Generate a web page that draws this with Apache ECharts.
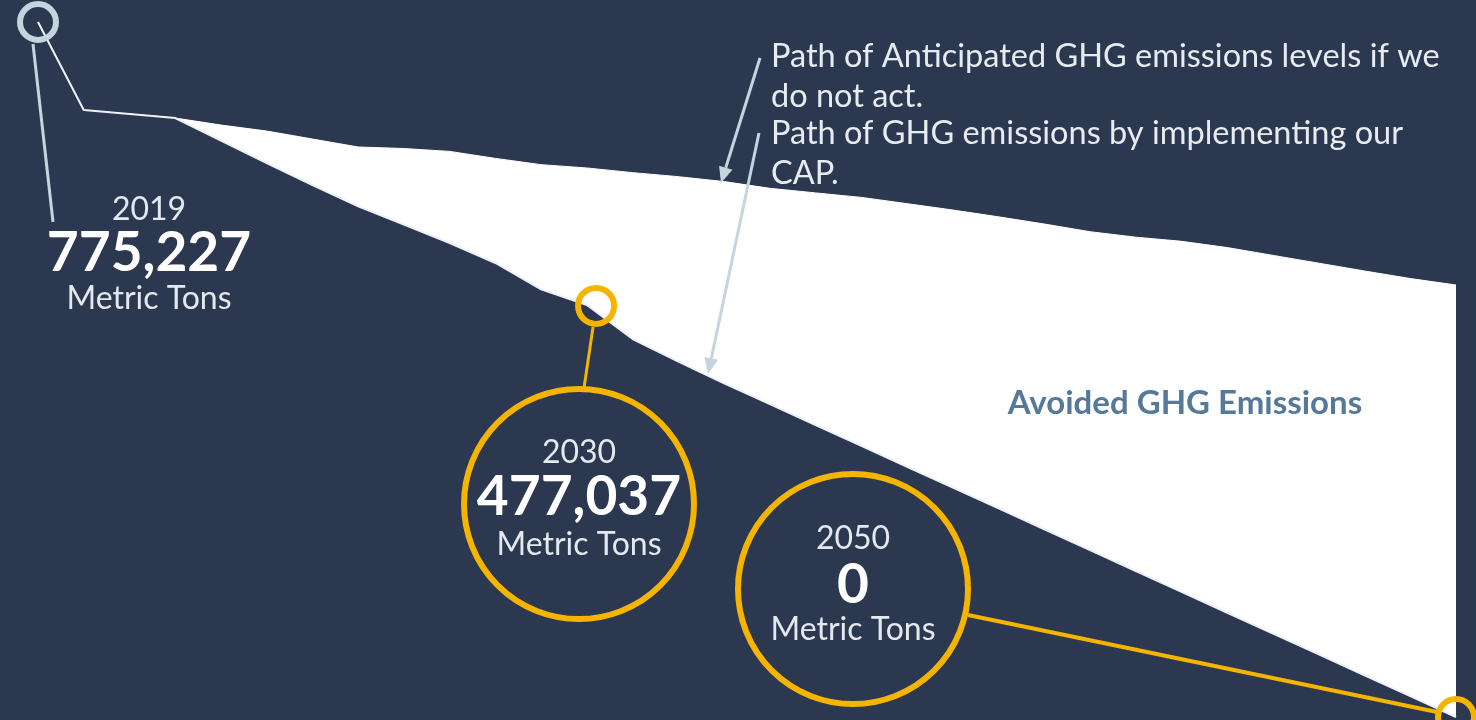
<!DOCTYPE html>
<html>
<head>
<meta charset="utf-8">
<script src="https://cdn.jsdelivr.net/npm/echarts@6.0.0/dist/echarts.min.js"></script>
<style>
html,body{margin:0;padding:0;background:#2c3850;}
#chart{width:1476px;height:720px;}
</style>
</head>
<body>
<div id="chart"></div>
<script>
// ---- data ----
const years = [2019,2020,2021,2022,2023,2024,2025,2026,2027,2028,2029,2030,2031,2032,2033,2034,2035,2036,2037,2038,2039,2040,2041,2042,2043,2044,2045,2046,2047,2048,2049,2050];
const anticipated = [775227,677000,672600,668100,660300,653600,644700,635800,634100,630900,623100,616100,612400,607200,602700,597200,589700,584600,579600,572600,565500,557900,549900,541300,535200,530600,523600,514900,506200,497500,489100,481900];
const capPath = [775227,677000,672600,668100,642800,617900,593400,569600,549200,528700,506400,477037,459500,421600,396500,372200,348900,325600,302400,279100,255900,232700,209400,186200,162800,139600,116300,93000,69800,46500,23300,0];
const calloutYears = ['2019','2030','2050'];
const calloutValues = ['775,227','477,037','0'];
const calloutUnit = 'Metric Tons';
const anchorYears = [2019, 2031.2, 2050];
const anchorValues = [775227, 458500, 0];
const noteTexts = ['Path of Anticipated GHG emissions levels if we','do not act.','Path of GHG emissions by implementing our','CAP.'];
const bandLabel = 'Avoided GHG Emissions';

const BG = '#2c3850';
const GREY = '#c6d4dd';
const YELLOW = '#f4b400';
const FONT = 'Lato, "Noto Sans", sans-serif';

const chart = echarts.init(document.getElementById('chart'), null, {renderer:'canvas'});

const anchorColors = [GREY, YELLOW, YELLOW];

chart.setOption({
  backgroundColor: BG,
  animation: false,
  grid: {left: 38, right: 20, top: 22, bottom: 3},
  xAxis: {type: 'value', min: 2019, max: 2050, show: false},
  yAxis: {type: 'value', min: 0, max: 775227, show: false},
  series: [
    {
      type: 'line', name: 'Anticipated', silent: true, z: 2,
      data: years.map((y, i) => [y, anticipated[i]]),
      symbol: 'none',
      lineStyle: {width: 1, color: '#ffffff'},
      areaStyle: {color: '#ffffff', opacity: 1}
    },
    {
      type: 'line', name: 'CAP', silent: true, z: 3,
      data: years.map((y, i) => [y, capPath[i]]),
      symbol: 'none',
      lineStyle: {width: 2, color: '#eef2f5'},
      areaStyle: {color: BG, opacity: 1},
      markPoint: {
        silent: true,
        label: {show: false},
        data: anchorYears.map((y, i) => ({
          coord: [y, anchorValues[i]],
          symbol: 'circle',
          symbolSize: 36,
          itemStyle: {color: 'rgba(0,0,0,0)', borderColor: anchorColors[i], borderWidth: 6}
        }))
      }
    }
  ]
});

// ---- annotations ----
const p = anchorYears.map((y, i) => chart.convertToPixel({gridIndex: 0}, [y, anchorValues[i]]));
const g = [];

function txt(text, x, y, size, weight, color, align) {
  g.push({type: 'text', z: 100, style: {
    text: text, x: x, y: y, fill: color,
    font: (weight || 'normal') + ' ' + size + 'px ' + FONT,
    textAlign: align || 'center', textVerticalAlign: 'middle',
    align: align || 'center', verticalAlign: 'middle'
  }});
}
function line(x1, y1, x2, y2, color, w) {
  g.push({type: 'line', z: 90, shape: {x1, y1, x2, y2}, style: {stroke: color, lineWidth: w}});
}
function ring(cx, cy, r, color, w) {
  g.push({type: 'circle', z: 90, shape: {cx, cy, r}, style: {fill: 'none', stroke: color, lineWidth: w}});
}
function arrow(x1, y1, x2, y2, color) {
  const a = Math.atan2(y2 - y1, x2 - x1);
  const L = 16, W = 7;
  const bx = x2 - L * Math.cos(a), by = y2 - L * Math.sin(a);
  line(x1, y1, bx, by, color, 3);
  g.push({type: 'polygon', z: 91, shape: {points: [[x2, y2], [bx - W * Math.sin(a), by + W * Math.cos(a)], [bx + W * Math.sin(a), by - W * Math.cos(a)]]}, style: {fill: color}});
}

// 2019 callout
line(p[0][0] - 5, p[0][1] + 22, 53, 222, GREY, 3);
txt(calloutYears[0], 149, 210, 32, 'normal', '#e3e9ee');
txt(calloutValues[0], 149, 253, 55, 'bold', '#ffffff');
txt(calloutUnit, 149, 299, 32, 'normal', '#e3e9ee');

// 2030 callout
line(p[1][0] - 3, p[1][1] + 21, 584, 388, YELLOW, 3);
ring(579, 504, 115, YELLOW, 6);
txt(calloutYears[1], 579, 453, 32, 'normal', '#e3e9ee');
txt(calloutValues[1], 579, 497, 55, 'bold', '#ffffff');
txt(calloutUnit, 579, 545, 32, 'normal', '#e3e9ee');

// 2050 callout
ring(853, 589, 115, YELLOW, 6);
line(968, 615, p[2][0] - 19, p[2][1] - 5, YELLOW, 4);
txt(calloutYears[2], 853, 539, 32, 'normal', '#e3e9ee');
txt(calloutValues[2], 853, 585, 55, 'bold', '#ffffff');
txt(calloutUnit, 853, 630, 32, 'normal', '#e3e9ee');

// path notes
arrow(760, 58, 721, 183, GREY);
arrow(759, 133, 708, 374, GREY);
txt(noteTexts[0], 771, 57, 32.5, 'normal', '#e6ecf0', 'left');
txt(noteTexts[1], 771, 97, 32.5, 'normal', '#e6ecf0', 'left');
txt(noteTexts[2], 771, 134, 32.5, 'normal', '#e6ecf0', 'left');
txt(noteTexts[3], 771, 174, 32.5, 'normal', '#e6ecf0', 'left');

// band label
txt(bandLabel, 1185, 403, 33, 'bold', '#56799a');

chart.setOption({graphic: {elements: g}});
</script>
</body>
</html>
